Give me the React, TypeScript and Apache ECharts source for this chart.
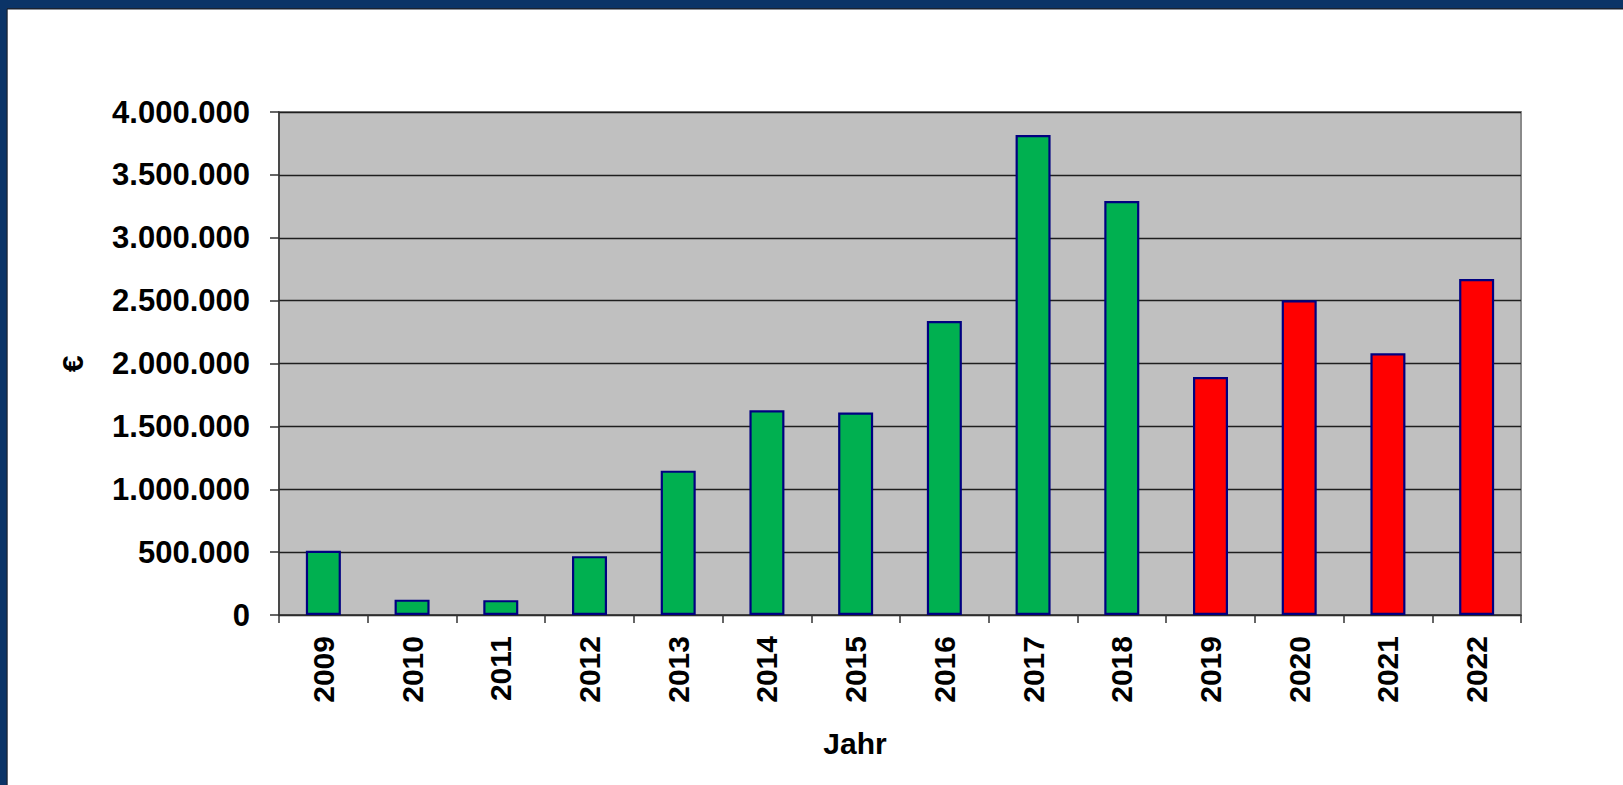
import React, { useEffect, useRef } from "react";
import * as echarts from "echarts";

const years = ["2009", "2010", "2011", "2012", "2013", "2014", "2015", "2016", "2017", "2018", "2019", "2020", "2021", "2022"];
const values = [510000, 122000, 118000, 468000, 1148000, 1628000, 1610000, 2337000, 3817000, 3292000, 1893000, 2503000, 2081000, 2672000];
const firstPlanYear = "2019";
const yTicks = [0, 500000, 1000000, 1500000, 2000000, 2500000, 3000000, 3500000, 4000000];
const xTitle = "Jahr";
const yTitle = "€";

const FONT = '"Liberation Sans", Arial, sans-serif';

function fmt(v: number): string {
  return String(Math.round(v)).replace(/\B(?=(\d{3})+(?!\d))/g, ".");
}

export default function App() {
  const ref = useRef<HTMLDivElement>(null);
  useEffect(() => {
    document.body.style.margin = "0";
    const chart = echarts.init(ref.current!, undefined, { renderer: "svg" });
    const planIdx = years.indexOf(firstPlanYear);
    chart.setOption({
      animation: false,
      backgroundColor: "#ffffff",
      grid: {
        left: 279,
        top: 112,
        width: 1242,
        height: 503,
        show: true,
        backgroundColor: "#c0c0c0",
        borderColor: "#8a8a8a",
        borderWidth: 2,
      },
      graphic: [
        { type: "rect", shape: { x: 0, y: 0, width: 1623, height: 8 }, style: { fill: "#0b3467" }, z: 100 },
        { type: "rect", shape: { x: 0, y: 8, width: 1623, height: 1.5 }, style: { fill: "#1a2230" }, z: 100 },
        { type: "rect", shape: { x: 0, y: 0, width: 7, height: 785 }, style: { fill: "#0b3467" }, z: 100 },
        { type: "rect", shape: { x: 6.5, y: 9, width: 1.2, height: 776 }, style: { fill: "#1a2230" }, z: 100 },
        {
          type: "text",
          x: 855,
          y: 743,
          style: { text: xTitle, font: `bold 30px ${FONT}`, fill: "#000", align: "center", verticalAlign: "middle" },
        },
        {
          type: "text",
          x: 72,
          y: 364,
          rotation: Math.PI / 2,
          style: { text: yTitle, font: `bold 30px ${FONT}`, fill: "#000", align: "center", verticalAlign: "middle" },
        },
      ],
      xAxis: {
        type: "category",
        data: years,
        boundaryGap: true,
        axisLine: { show: true, lineStyle: { color: "#333", width: 1.5 } },
        axisTick: { show: true, length: 8, alignWithLabel: false, lineStyle: { color: "#333", width: 1.5 } },
        axisLabel: {
          rotate: 90,
          margin: 21,
          color: "#000",
          fontSize: 30,
          fontWeight: "bold",
          fontFamily: FONT,
        },
        splitLine: { show: false },
      },
      yAxis: {
        type: "value",
        min: 0,
        max: yTicks[yTicks.length - 1],
        interval: yTicks[1] - yTicks[0],
        axisLine: { show: true, lineStyle: { color: "#333", width: 1.5 } },
        axisTick: { show: true, length: 9, lineStyle: { color: "#333", width: 1.5 } },
        axisLabel: {
          margin: 29,
          color: "#000",
          fontSize: 31,
          fontWeight: "bold",
          fontFamily: FONT,
          formatter: (v: number) => fmt(v),
        },
        splitLine: { show: true, lineStyle: { color: "#1e1e1e", width: 1.3 } },
      },
      series: [
        {
          type: "bar",
          data: values,
          barWidth: 35,
          itemStyle: {
            color: (p: any) => (p.dataIndex >= planIdx ? "#ff0000" : "#00b050"),
            borderColor: "#000080",
            borderWidth: 2.2,
          },
        },
      ],
    });
    return () => chart.dispose();
  }, []);
  return <div ref={ref} style={{ width: 1623, height: 785 }} />;
}
